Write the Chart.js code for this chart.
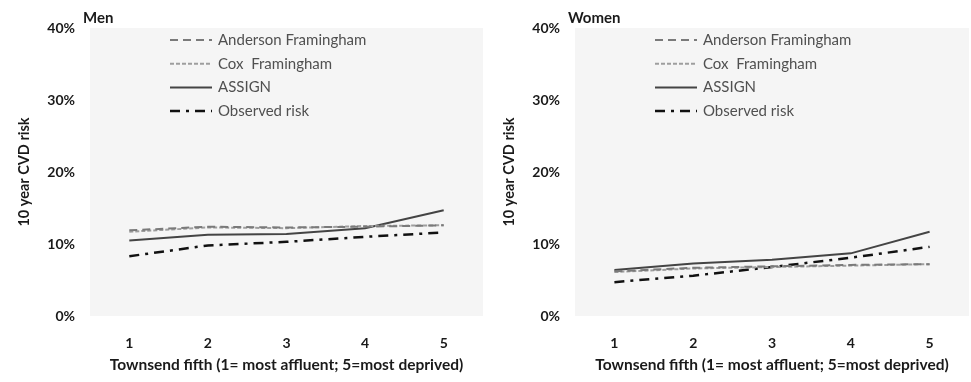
<!DOCTYPE html>
<html>
<head>
<meta charset="utf-8">
<script src="https://cdn.jsdelivr.net/npm/chart.js@4/dist/chart.umd.min.js"></script>
<style>
  body { margin: 0; background: #fff; }
  .wrap { display: flex; width: 971px; height: 382px; }
  .panel { position: relative; height: 382px; }
</style>
</head>
<body>
<div class="wrap">
  <div class="panel" style="width:485px"><canvas id="men"></canvas></div>
  <div class="panel" style="width:486px"><canvas id="women"></canvas></div>
</div>
<script>
var fifths = ['1', '2', '3', '4', '5'];
var yTicks = [0, 10, 20, 30, 40];
var seriesNames = ['Anderson Framingham', 'Cox  Framingham', 'ASSIGN', 'Observed risk'];

var menAnderson = [11.9, 12.4, 12.3, 12.4, 12.6];
var menCox = [11.7, 12.3, 12.2, 12.5, 12.6];
var menAssign = [10.5, 11.3, 11.4, 12.2, 14.7];
var menObserved = [8.3, 9.8, 10.3, 11.0, 11.6];

var womenAnderson = [6.2, 6.7, 6.9, 7.1, 7.2];
var womenCox = [6.1, 6.6, 6.8, 7.0, 7.2];
var womenAssign = [6.4, 7.3, 7.8, 8.7, 11.7];
var womenObserved = [4.7, 5.6, 6.8, 8.1, 9.6];

var styles = [
    { color: '#7a7a7a', dash: [8, 5], width: 2 },
    { color: '#9e9e9e', dash: [4, 2], width: 2 },
    { color: '#444444', dash: [], width: 2 },
    { color: '#111111', dash: [10, 6, 3, 6], width: 2.5 }
];

var boldFont = { family: 'Lato', size: 14, weight: 'bold' };

// grey plot background, panel label and in-plot legend
var decor = {
    id: 'decor',
    beforeDraw: function (chart) {
        var a = chart.chartArea, c = chart.ctx;
        c.save();
        c.fillStyle = '#f5f5f5';
        c.fillRect(a.left, a.top, a.right - a.left, a.bottom - a.top);
        c.restore();
    },
    afterDraw: function (chart, args, opts) {
        var a = chart.chartArea, c = chart.ctx;
        c.save();
        c.fillStyle = '#1a1a1a';
        c.font = 'bold 15px Lato';
        c.textBaseline = 'middle';
        c.fillText(opts.panel, a.left - 7, a.top - 10);
        c.font = '15px Lato';
        chart.data.datasets.forEach(function (ds, i) {
            var y = a.top + 12 + i * 23.7;
            c.beginPath();
            c.strokeStyle = ds.borderColor;
            c.lineWidth = ds.borderWidth;
            c.setLineDash(ds.borderDash);
            c.moveTo(a.left + 80, y);
            c.lineTo(a.left + 122, y);
            c.stroke();
            c.fillStyle = '#505050';
            c.fillText(ds.label, a.left + 128, y);
        });
        c.restore();
    }
};

function makeChart(id, panel, series) {
    var ctx = document.getElementById(id).getContext('2d');
    return new Chart(ctx, {
        type: 'line',
        data: {
            labels: fifths,
            datasets: series.map(function (d, i) {
                return {
                    label: seriesNames[i],
                    data: d,
                    borderColor: styles[i].color,
                    borderDash: styles[i].dash,
                    borderWidth: styles[i].width,
                    pointRadius: 0,
                    tension: 0,
                    fill: false
                };
            })
        },
        options: {
            responsive: true,
            maintainAspectRatio: false,
            animation: false,
            layout: { padding: { top: 28, left: 0, right: 2, bottom: 0 } },
            plugins: {
                legend: { display: false },
                tooltip: { enabled: false },
                decor: { panel: panel }
            },
            scales: {
                x: {
                    offset: true,
                    grid: { display: false, drawTicks: false },
                    border: { display: false },
                    ticks: { color: '#1a1a1a', padding: 19, font: boldFont },
                    title: {
                        display: true,
                        text: 'Townsend fifth (1= most affluent; 5=most deprived)',
                        color: '#1a1a1a',
                        padding: { top: 0, bottom: 8 },
                        font: { family: 'Lato', size: 15.5, weight: 'bold' }
                    },
                    afterFit: function (s) { s.height = 66; }
                },
                y: {
                    min: 0,
                    max: 40,
                    afterBuildTicks: function (s) {
                        s.ticks = yTicks.map(function (v) { return { value: v }; });
                    },
                    grid: { display: false, drawTicks: false },
                    border: { display: false },
                    ticks: {
                        color: '#1a1a1a',
                        padding: 15,
                        font: boldFont,
                        callback: function (v) { return v + '%'; }
                    },
                    title: {
                        display: true,
                        text: '10 year CVD risk',
                        color: '#1a1a1a',
                        padding: { top: 16, bottom: 0 },
                        font: { family: 'Lato', size: 14.5, weight: 'bold' }
                    },
                    afterFit: function (s) { s.width = 90; }
                }
            }
        },
        plugins: [decor]
    });
}

makeChart('men', 'Men', [menAnderson, menCox, menAssign, menObserved]);
makeChart('women', 'Women', [womenAnderson, womenCox, womenAssign, womenObserved]);
</script>
</body>
</html>
